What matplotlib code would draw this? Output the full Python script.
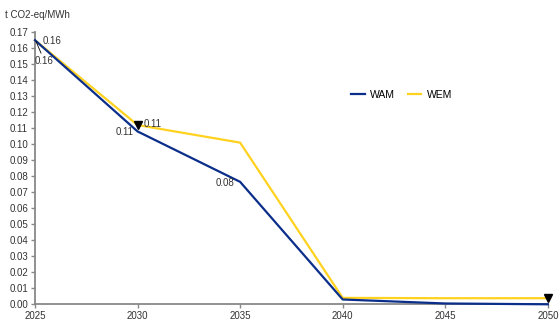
import matplotlib
matplotlib.use("Agg")
import matplotlib.pyplot as plt
import numpy as np

plt.rcParams['font.family'] = ['Liberation Sans', 'DejaVu Sans']

years = [2025, 2030, 2035, 2040, 2045, 2050]
wam = [0.165, 0.108, 0.0765, 0.003, 0.0005, 0.0]
wem = [0.165, 0.112, 0.101, 0.004, 0.0038, 0.0038]

fig = plt.figure(figsize=(5.59, 3.22), dpi=100)
ax = fig.add_axes([0.0626, 0.055, 0.9174, 0.845])

ax.plot(years, wam, color='#0b2e8a', lw=1.6, label='WAM', clip_on=False, zorder=3)
ax.plot(years, wem, color='#ffd21f', lw=1.6, label='WEM', clip_on=False, zorder=2)

# triangle markers as in the original
ax.plot([years[1], years[5]], [wem[1], wem[5]], marker='v', ls='none',
        color='black', ms=5.5, clip_on=False, zorder=4)

fs = 7
ax.text(2025.35, wem[0] - 0.0003, '0.16', fontsize=fs, color='#333333', va='center', ha='left')
ax.annotate('0.16', xy=(2025.05, wam[0] - 0.0008), xytext=(2025.0, 0.152),
            fontsize=fs, color='#333333', ha='left', va='center',
            arrowprops=dict(arrowstyle='-', color='black', lw=0.6, shrinkA=0, shrinkB=0))
ax.text(2030.3, wem[1] + 0.0005, '0.11', fontsize=fs, color='#333333', va='center', ha='left')
ax.text(2029.8, wam[1] - 0.0005, '0.11', fontsize=fs, color='#333333', va='center', ha='right')
ax.text(2034.7, wam[2] - 0.0005, '0.08', fontsize=fs, color='#333333', va='center', ha='right')

ax.set_xlim(2025, 2050)
ax.set_ylim(0, 0.17)
ax.set_xticks(years)
ax.set_yticks(np.arange(0, 0.1701, 0.01))
ax.set_yticklabels(['%.2f' % v for v in np.arange(0, 0.1701, 0.01)])
ax.tick_params(labelsize=fs, colors='#333333', length=3, width=1, pad=2)
ax.tick_params(axis='both', color='#888888')

for s in ['top', 'right']:
    ax.spines[s].set_visible(False)
for s in ['left', 'bottom']:
    ax.spines[s].set_color('#888888')
    ax.spines[s].set_linewidth(1.3)

fig.text(0.009, 0.952, 't CO2-eq/MWh', fontsize=fs, color='#333333', va='center', ha='left')

ax.legend(loc='center', bbox_to_anchor=(0.715, 0.77), ncol=2, frameon=False,
          fontsize=7.5, handlelength=1.3, handletextpad=0.5, columnspacing=1.2)

fig.savefig('out.png', dpi=100)
